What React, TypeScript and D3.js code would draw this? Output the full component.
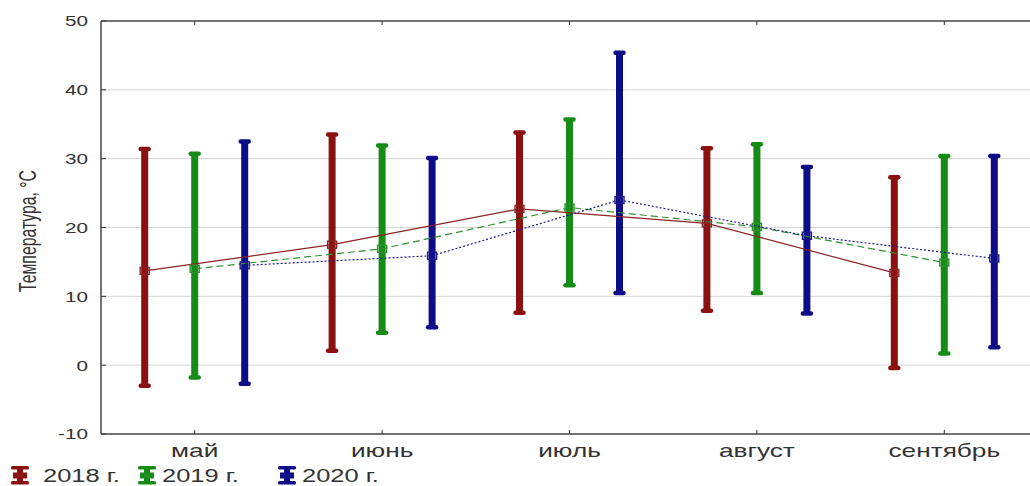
import React from 'react';
import * as d3 from 'd3';

const WIDTH = 1030;
const HEIGHT = 486;
const MARGIN = { top: 21, right: -8, bottom: 52, left: 101 };
const GRAPH_WIDTH = WIDTH - MARGIN.left - MARGIN.right;
const GRAPH_HEIGHT = HEIGHT - MARGIN.top - MARGIN.bottom;

const months = ['май', 'июнь', 'июль', 'август', 'сентябрь'];
const years = ['2018 г.', '2019 г.', '2020 г.'];
const colors = ['#8b1010', '#158c15', '#0d0d88'];
const lineColors = ['#8a2424', '#2f8f2f', '#1b1b8c'];

// mean / max / min per year, per month
const mean2018 = [13.7, 17.5, 22.7, 20.6, 13.4];
const max2018 = [31.4, 33.5, 33.8, 31.5, 27.3];
const min2018 = [-3.0, 2.1, 7.6, 7.9, -0.4];

const mean2019 = [14.0, 16.9, 22.9, 20.1, 14.9];
const max2019 = [30.7, 31.9, 35.7, 32.1, 30.4];
const min2019 = [-1.8, 4.7, 11.6, 10.5, 1.7];

const mean2020 = [14.5, 15.9, 24.0, 18.8, 15.5];
const max2020 = [32.5, 30.1, 45.4, 28.8, 30.4];
const min2020 = [-2.7, 5.5, 10.5, 7.5, 2.6];

const yTicks = [-10, 0, 10, 20, 30, 40, 50];

const series = [
  { name: years[0], mean: mean2018, max: max2018, min: min2018, color: colors[0], lc: lineColors[0], dash: 'none', offset: -50 },
  { name: years[1], mean: mean2019, max: max2019, min: min2019, color: colors[1], lc: lineColors[1], dash: '7,4', offset: 0 },
  { name: years[2], mean: mean2020, max: max2020, min: min2020, color: colors[2], lc: lineColors[2], dash: '2,2', offset: 50 },
];

const FONT = 'Liberation Sans, Arial, sans-serif';
const STRETCH = 1.38; // the picture text is wide

export default function App() {
  const x = d3.scaleBand().domain(months).range([0, GRAPH_WIDTH]);
  const y = d3.scaleLinear().domain([-10, 50]).range([GRAPH_HEIGHT, 0]);
  const cx = (m: string) => (x(m) as number) + x.bandwidth() / 2;

  return (
    <svg width={WIDTH} height={HEIGHT} style={{ position: 'absolute', left: 0, top: 0, background: '#fff' }}
      xmlns="http://www.w3.org/2000/svg">
      <g transform={`translate(${MARGIN.left}, ${MARGIN.top})`}>
        {yTicks.map((t) => (
          <g key={t}>
            {t > -10 && t < 50 && (
              <line x1={0} x2={GRAPH_WIDTH} y1={y(t)} y2={y(t)} stroke="#d6d6d6" strokeWidth={1} />
            )}
            <line x1={0} x2={5} y1={y(t)} y2={y(t)} stroke="#333" />
            <text transform={`translate(-13, ${y(t)}) scale(${STRETCH},1)`} dy="0.36em" textAnchor="end"
              fontFamily={FONT} fontSize={15} fill="#333">{t}</text>
          </g>
        ))}
        <line x1={0} x2={GRAPH_WIDTH} y1={0} y2={0} stroke="#444" strokeWidth={1.5} />
        <line x1={0} x2={GRAPH_WIDTH} y1={GRAPH_HEIGHT} y2={GRAPH_HEIGHT} stroke="#444" strokeWidth={1.5} />
        <line x1={0} x2={0} y1={0} y2={GRAPH_HEIGHT} stroke="#444" strokeWidth={1.5} />
        {months.map((m) => (
          <g key={m}>
            <line x1={cx(m)} x2={cx(m)} y1={0} y2={4} stroke="#333" />
            <line x1={cx(m)} x2={cx(m)} y1={GRAPH_HEIGHT} y2={GRAPH_HEIGHT - 4} stroke="#333" />
            <text transform={`translate(${cx(m)}, ${GRAPH_HEIGHT + 23}) scale(${STRETCH},1)`} textAnchor="middle"
              fontFamily={FONT} fontSize={19} fill="#333">{m}</text>
          </g>
        ))}

        {series.map((s) => (
          <g key={s.name}>
            {months.map((m, i) => (
              <g key={m}>
                <line x1={cx(m) + s.offset} x2={cx(m) + s.offset} y1={y(s.max[i])} y2={y(s.min[i])}
                  stroke={s.color} strokeWidth={7} />
                <line x1={cx(m) + s.offset - 4} x2={cx(m) + s.offset + 4} y1={y(s.max[i])} y2={y(s.max[i])}
                  stroke={s.color} strokeWidth={4.5} strokeLinecap="round" />
                <line x1={cx(m) + s.offset - 4} x2={cx(m) + s.offset + 4} y1={y(s.min[i])} y2={y(s.min[i])}
                  stroke={s.color} strokeWidth={4.5} strokeLinecap="round" />
              </g>
            ))}
          </g>
        ))}
        {series.map((s) => {
          const line = d3.line<number>()
            .x((_, i) => cx(months[i]) + s.offset)
            .y((d) => y(d));
          return (
            <g key={s.name}>
              <path d={line(s.mean) || ''} fill="none" stroke={s.lc} strokeWidth={1.2} strokeDasharray={s.dash} />
              {s.mean.map((v, i) => (
                <rect key={i} x={cx(months[i]) + s.offset - 4.5} y={y(v) - 3.5} width={9} height={7}
                  fill="none" stroke={s.lc} strokeWidth={1.4} />
              ))}
            </g>
          );
        })}
      </g>

      <text transform="translate(36, 231) rotate(-90) scale(1, 1.35)" textAnchor="middle"
        textLength={122} lengthAdjust="spacingAndGlyphs"
        fontFamily={FONT} fontSize={18} fill="#333">Температура, °C</text>

      {series.map((s, i) => {
        const lx = [20, 147, 287][i];
        const tx = [43, 162, 302][i];
        return (
          <g key={s.name}>
            <rect x={lx - 3} y={467} width={6} height={17} fill={s.color} />
            <rect x={lx - 9} y={466} width={18} height={3.5} rx={1.5} fill={s.color} />
            <rect x={lx - 9} y={481} width={18} height={3.5} rx={1.5} fill={s.color} />
            <rect x={lx - 7} y={472.5} width={14} height={6} fill={s.color} />
            <rect x={lx - 3} y={473.5} width={6} height={4} fill={s.lc} opacity={0.6} />
            <text transform={`translate(${tx}, 482) scale(1.34,1)`} fontFamily={FONT} fontSize={19} fill="#333">{s.name}</text>
          </g>
        );
      })}
    </svg>
  );
}
